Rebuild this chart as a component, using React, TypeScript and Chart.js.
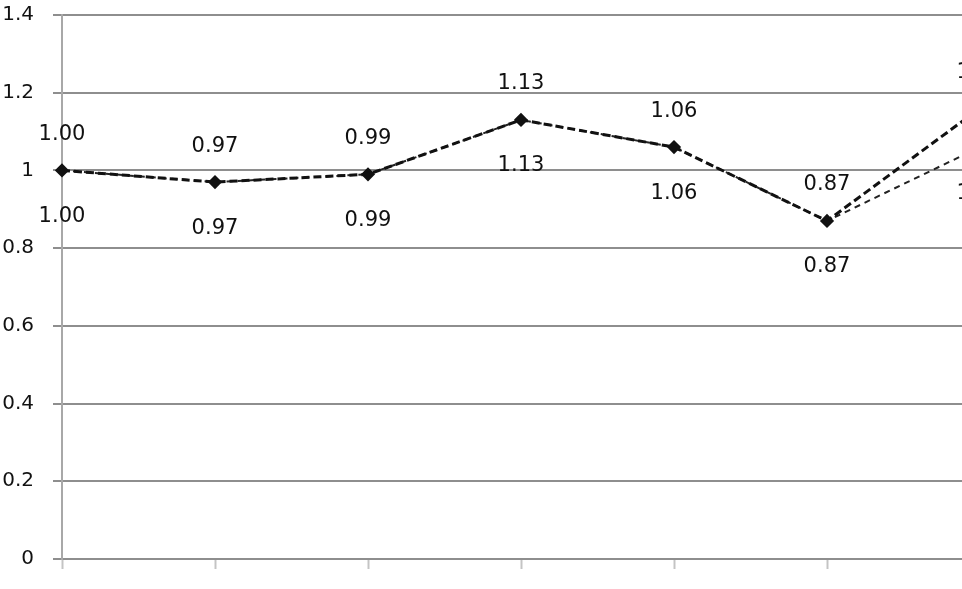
import React, { useEffect, useRef } from "react";
import { Chart, registerables } from "chart.js";

Chart.register(...registerables);

const categories = ["1", "2", "3", "4", "5", "6", "7"];
const seriesUpper = [1.0, 0.97, 0.99, 1.13, 1.06, 0.87, 1.16];
const seriesLower = [1.0, 0.97, 0.99, 1.13, 1.06, 0.87, 1.06];
const yMin = 0;
const yMax = 1.4;
const yStep = 0.2;

const FONT = "'DejaVu Sans', Verdana, sans-serif";

const labelPlugin = {
  id: "valueLabels",
  afterDatasetsDraw(chart: any) {
    const ctx = chart.ctx;
    ctx.save();
    ctx.font = `21px ${FONT}`;
    ctx.fillStyle = "#111";
    ctx.textAlign = "center";
    ctx.textBaseline = "middle";
    chart.data.datasets.forEach((ds: any, di: number) => {
      const meta = chart.getDatasetMeta(di);
      meta.data.forEach((pt: any, i: number) => {
        const v = ds.data[i] as number;
        const dy = di === 0 ? -36 : 46;
        ctx.fillText(v.toFixed(2), pt.x, pt.y + dy);
      });
    });
    ctx.restore();
  },
};

export default function App() {
  const ref = useRef<HTMLCanvasElement | null>(null);
  useEffect(() => {
    if (!ref.current) return;
    const chart = new Chart(ref.current, {
      type: "line",
      data: {
        labels: categories,
        datasets: [
          {
            data: seriesUpper,
            borderColor: "#111",
            borderWidth: 3,
            borderDash: [8, 4],
            pointStyle: "rectRot",
            pointRadius: 5,
            pointBackgroundColor: "#111",
            pointBorderColor: "#111",
            fill: false,
            tension: 0,
          },
          {
            data: seriesLower,
            borderColor: "#222",
            borderWidth: 2,
            borderDash: [6, 5],
            pointRadius: 0,
            fill: false,
            tension: 0,
          },
        ],
      },
      options: {
        animation: false,
        responsive: true,
        maintainAspectRatio: false,
        layout: { padding: { top: 15, right: 40, left: 0, bottom: 0 } },
        plugins: { legend: { display: false }, tooltip: { enabled: false } },
        scales: {
          x: {
            offset: false,
            grid: {
              drawOnChartArea: false,
              drawTicks: true,
              tickLength: 10,
              tickColor: "#c4c4c4",
              tickWidth: 2,
            },
            border: { display: false },
            ticks: { display: false },
            afterFit: (s: any) => {
              s.height = 30;
              s.paddingLeft = 0;
              s.paddingRight = 0;
            },
          },
          y: {
            min: yMin,
            max: yMax,
            grid: {
              color: "#8e8e8e",
              lineWidth: 2,
              drawTicks: true,
              tickLength: 9,
              tickColor: "#8e8e8e",
            },
            border: { display: true, color: "#a8a8a8", width: 2 },
            ticks: {
              stepSize: yStep,
              padding: 19,
              color: "#111",
              font: { family: FONT, size: 20 },
              callback: (v: any) => String(Number(Number(v).toFixed(1))),
            },
            afterFit: (s: any) => {
              s.width = 62;
              s.paddingTop = 0;
              s.paddingBottom = 0;
            },
          },
        },
      },
      plugins: [labelPlugin],
    });
    return () => chart.destroy();
  }, []);

  return (
    <div
      style={{
        position: "fixed",
        left: 0,
        top: 0,
        width: 962,
        height: 589,
        overflow: "hidden",
        background: "#fff",
      }}
    >
      <div style={{ width: 1020, height: 589, position: "relative" }}>
        <canvas ref={ref} />
      </div>
    </div>
  );
}
